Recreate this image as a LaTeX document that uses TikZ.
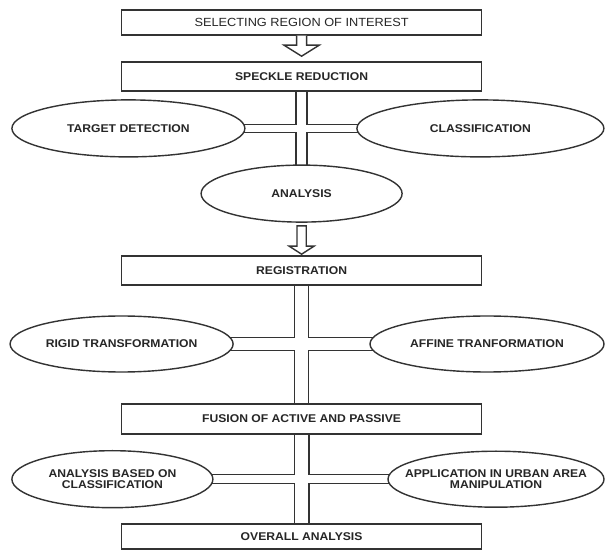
\documentclass[tikz,border=0pt]{standalone}
\usepackage{fontspec}
\setmainfont{Liberation Sans}
\newfontfamily\diagfont[FakeStretch=1.08]{Liberation Sans}
\usetikzlibrary{shapes.geometric, calc, backgrounds}

\begin{document}
\begin{tikzpicture}[
  %%── Styles ───────────────────────────────────────────────────────────────
  procbox/.style={
    rectangle, draw=black!80, fill=white, line width=1pt,
    minimum width=9.0cm, inner sep=0pt, text=black!85,
    font=\diagfont\bfseries\fontsize{8}{8}\selectfont
  },
  oval/.style={
    ellipse, draw=black!80, fill=white, line width=1pt,
    inner ysep=0pt, inner xsep=-0.6cm, align=center, text=black!85,
    font=\diagfont\bfseries\fontsize{8}{7.6}\selectfont
  },
  pipeout/.style={draw=black!80, line width=#1},
  pipein/.style={draw=white, line width=#1},
  hollow/.style={draw=black!80, fill=white, line width=1pt, line join=miter},
]
\useasboundingbox (0,0) rectangle (15.125,-13.75);

%%── Process boxes (x: 122px → 481px) ────────────────────────────────────
\node[procbox, minimum height=0.625cm,
      font=\diagfont\fontsize{8.4}{8}\selectfont] (roi) at (7.54,-0.5625)
    {SELECTING REGION OF INTEREST};
\node[procbox, minimum height=0.725cm] (speckle) at (7.54,-1.91)
    {SPECKLE REDUCTION};
\node[procbox, minimum height=0.725cm] (regist)  at (7.54,-6.76)
    {REGISTRATION};
\node[procbox, minimum height=0.75cm]  (fusion)  at (7.54,-10.475)
    {FUSION OF ACTIVE AND PASSIVE};
\node[procbox, minimum height=0.625cm] (overall) at (7.54,-13.41)
    {OVERALL ANALYSIS};

%%── Ellipses, row 1 (y = -3.21) ──────────────────────────────────────────
\node[oval, minimum width=5.825cm, minimum height=1.425cm] (target)
    at (3.21,-3.21) {TARGET DETECTION};
\node[oval, minimum width=6.175cm, minimum height=1.425cm] (classif)
    at (12.01,-3.21) {CLASSIFICATION};
\node[oval, minimum width=5.025cm, minimum height=1.425cm] (analysis)
    at (7.54,-4.84) {ANALYSIS};

%%── Ellipses, row 2 (y = -8.60) ──────────────────────────────────────────
\node[oval, minimum width=5.575cm, minimum height=1.4cm] (rigid)
    at (3.04,-8.6) {RIGID TRANSFORMATION};
\node[oval, minimum width=5.85cm, minimum height=1.4cm] (affine)
    at (12.175,-8.6) {AFFINE TRANFORMATION};

%%── Ellipses, row 3 (y = -11.98) ─────────────────────────────────────────
\node[oval, minimum width=5.025cm, minimum height=1.425cm] (anclass)
    at (2.81,-11.98) {ANALYSIS BASED ON\\CLASSIFICATION};
\node[oval, minimum width=5.4cm, minimum height=1.4cm] (urban)
    at (12.4,-11.98) {APPLICATION IN URBAN AREA\\MANIPULATION};

%%── Double-line pipes (outer strokes first, then white cores) ───────────
\begin{scope}[on background layer]
  \draw[pipeout=8.8pt]  (speckle.center) -- (analysis.center);
  \draw[pipeout=6.6pt]  (target.center)  -- (classif.center);
  \draw[pipeout=10.9pt] (regist.center)  -- (fusion.center);
  \draw[pipeout=10.2pt] (rigid.center)   -- (affine.center);
  \draw[pipeout=11.4pt] (fusion.center)  -- (overall.center);
  \draw[pipeout=7.3pt]  (anclass.center) -- (urban.center);
  \draw[pipein=6.8pt]   (speckle.center) -- (analysis.center);
  \draw[pipein=4.6pt]   (target.center)  -- (classif.center);
  \draw[pipein=8.9pt]   (regist.center)  -- (fusion.center);
  \draw[pipein=8.2pt]   (rigid.center)   -- (affine.center);
  \draw[pipein=9.4pt]   (fusion.center)  -- (overall.center);
  \draw[pipein=5.3pt]   (anclass.center) -- (urban.center);
\end{scope}

%%── Hollow block arrows ──────────────────────────────────────────────────
\draw[hollow] let \p1=(roi.south), \p2=(speckle.north) in
  (\x1-0.125cm,\y1) -- (\x1-0.125cm,\y2+0.4cm) -- (\x1-0.44cm,\y2+0.4cm)
  -- (\x1,\y2+0.125cm) -- (\x1+0.44cm,\y2+0.4cm)
  -- (\x1+0.125cm,\y2+0.4cm) -- (\x1+0.125cm,\y1);
\draw[hollow] let \p1=(analysis.south), \p2=(regist.north) in
  (\x1-0.115cm,\y1-0.075cm) -- (\x1-0.115cm,\y2+0.225cm)
  -- (\x1-0.31cm,\y2+0.225cm) -- (\x1,\y2+0.025cm)
  -- (\x1+0.31cm,\y2+0.225cm) -- (\x1+0.115cm,\y2+0.225cm)
  -- (\x1+0.115cm,\y1-0.075cm) -- cycle;

\end{tikzpicture}
\end{document}
